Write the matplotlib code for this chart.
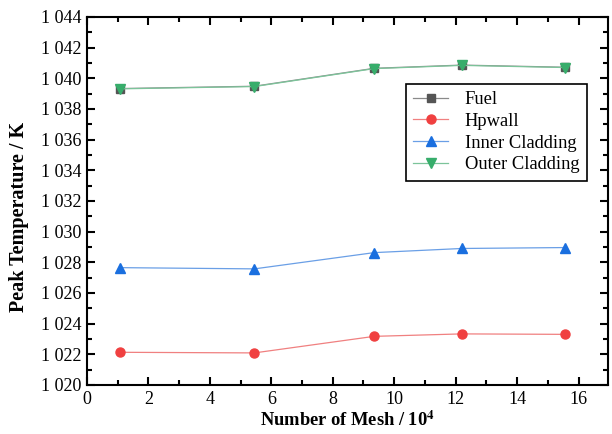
import matplotlib.pyplot as plt
from matplotlib.ticker import FuncFormatter, MultipleLocator

# mesh counts (x 10^4) and peak temperatures (K)
mesh = [1.08, 5.45, 9.35, 12.2, 15.55]
fuel = [1039.33, 1039.48, 1040.65, 1040.86, 1040.72]
hpwall = [1022.13, 1022.09, 1023.17, 1023.33, 1023.30]
inner_cladding = [1027.65, 1027.57, 1028.63, 1028.90, 1028.96]
outer_cladding = [1039.31, 1039.46, 1040.63, 1040.84, 1040.70]


def main():
    plt.rcParams["font.family"] = ["Liberation Serif", "DejaVu Serif"]
    plt.rcParams["mathtext.fontset"] = "stix"

    fig = plt.figure(figsize=(6.12, 4.34), dpi=100)
    ax = fig.add_axes([0.142, 0.113, 0.851, 0.848])

    # marker colour, line colour (lines are drawn lighter)
    styles = [
        (fuel, "Fuel", "s", 6, "#555555", "#8a8a8a"),
        (hpwall, "Hpwall", "o", 6.5, "#f04040", "#f08080"),
        (inner_cladding, "Inner Cladding", "^", 7, "#1a6fdf", "#6a9fe6"),
        (outer_cladding, "Outer Cladding", "v", 7, "#37ad6b", "#7cc49a"),
    ]
    for vals, lab, mk, ms, mc, lc in styles:
        ax.plot(mesh, vals, color=lc, lw=0.9, marker=mk, ms=ms,
                markerfacecolor=mc, markeredgecolor=mc, label=lab)

    ax.set_xlim(0, 16.95)
    ax.set_ylim(1020, 1044)
    ax.xaxis.set_major_locator(MultipleLocator(2))
    ax.xaxis.set_minor_locator(MultipleLocator(1))
    ax.yaxis.set_major_locator(MultipleLocator(2))
    ax.yaxis.set_minor_locator(MultipleLocator(1))
    ax.yaxis.set_major_formatter(FuncFormatter(lambda v, p: "1 %03d" % (v - 1000)))

    ax.tick_params(which="both", direction="in", top=True, right=True, width=1.5,
                   labelsize=13, colors="black")
    ax.tick_params(which="major", length=6, pad=4)
    ax.tick_params(which="minor", length=3.5)
    for s in ax.spines.values():
        s.set_linewidth(1.5)

    ax.set_xlabel(r"Number of Mesh / 10$^{\mathbf{4}}$", fontsize=13.3, fontweight="bold",
                  labelpad=2)
    ax.set_ylabel("Peak Temperature / K", fontsize=14.5, fontweight="bold", labelpad=4)
    ax.yaxis.set_label_coords(-0.112, 0.457)

    leg = ax.legend(loc="upper right", bbox_to_anchor=(0.96, 0.818), borderaxespad=0,
                    fontsize=13.3, fancybox=False, edgecolor="black", framealpha=1,
                    handlelength=1.9, handletextpad=0.9, borderpad=0.4,
                    labelspacing=0.25)
    leg.get_frame().set_linewidth(1.2)


if __name__ == "__main__":

    main()

    plt.savefig("out.png", dpi=100)
